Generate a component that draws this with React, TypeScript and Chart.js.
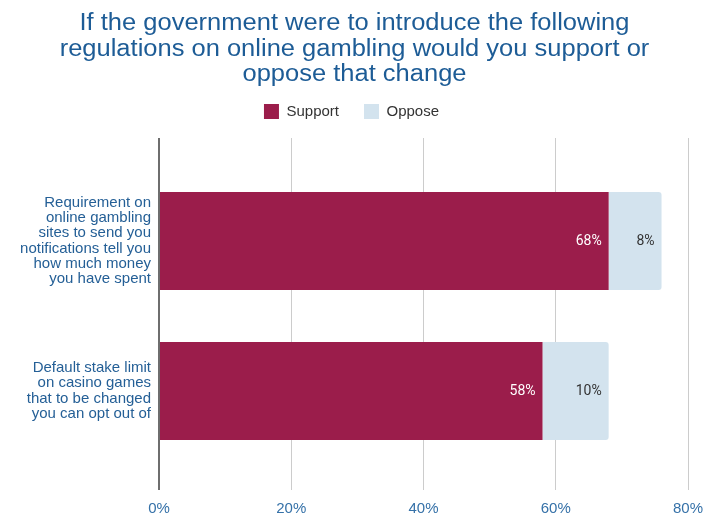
import React, { useEffect, useRef } from "react";
import { Chart, registerables } from "chart.js";

Chart.register(...registerables);

const TITLE_LINES = [
  "If the government were to introduce the following",
  "regulations on online gambling would you support or",
  "oppose that change",
];
const CATEGORIES: string[][] = [
  [
    "Requirement on",
    "online gambling",
    "sites to send you",
    "notifications tell you",
    "how much money",
    "you have spent",
  ],
  ["Default stake limit", "on casino games", "that to be changed", "you can opt out of"],
];
const SERIES_NAMES = ["Support", "Oppose"];
const SUPPORT = [68, 58];
const OPPOSE = [8, 10];
const X_MIN = 0;
const X_MAX = 80;
const X_STEP = 20;

const SUPPORT_COLOR = "#9b1d4b";
const OPPOSE_COLOR = "#d3e3ee";
const GRID_COLOR = "#cccccc";
const ZERO_COLOR = "#6e6e6e";
const TITLE_COLOR = "#1d5c96";

const gridColor = (ctx: any) => (ctx.tick && ctx.tick.value === 0 ? ZERO_COLOR : GRID_COLOR);
const gridWidth = (ctx: any) => (ctx.tick && ctx.tick.value === 0 ? 2 : 1);

// Title drawn as real canvas text, slightly widened like the reference
const titlePlugin = {
  id: "wideTitle",
  afterDraw(chart: any) {
    const ctx = chart.ctx;
    ctx.save();
    ctx.font = "normal 23.5px 'Liberation Sans', Arial, sans-serif";
    ctx.fillStyle = TITLE_COLOR;
    ctx.textAlign = "center";
    ctx.textBaseline = "alphabetic";
    const cx = 354.5;
    const sx = 1.085;
    ctx.translate(cx, 0);
    ctx.scale(sx, 1);
    TITLE_LINES.forEach((line, i) => {
      ctx.fillText(line, 0, 30 + i * 25.7);
    });
    ctx.restore();
  },
};

const valueLabels = {
  id: "valueLabels",
  afterDatasetsDraw(chart: any) {
    const ctx = chart.ctx;
    ctx.save();
    ctx.font = "normal 14px Roboto, 'Liberation Sans', sans-serif";
    ctx.textAlign = "right";
    ctx.textBaseline = "middle";
    chart.data.datasets.forEach((ds: any, di: number) => {
      const meta = chart.getDatasetMeta(di);
      meta.data.forEach((bar: any, i: number) => {
        const { x, y } = bar.getProps(["x", "y"], true);
        ctx.fillStyle = di === 0 ? "#ffffff" : "#333333";
        ctx.fillText(ds.data[i] + "%", x - 7, y);
      });
    });
    ctx.restore();
  },
};

export default function App() {
  const ref = useRef<HTMLCanvasElement | null>(null);

  useEffect(() => {
    if (!ref.current) return;
    const chart = new Chart(ref.current, {
      type: "bar",
      data: {
        labels: CATEGORIES,
        datasets: [
          {
            label: SERIES_NAMES[0],
            data: SUPPORT,
            backgroundColor: SUPPORT_COLOR,
            borderWidth: 0,
            borderRadius: 0,
            xAxisID: "x",
            yAxisID: "y",
          },
          {
            label: SERIES_NAMES[1],
            data: OPPOSE,
            backgroundColor: OPPOSE_COLOR,
            borderWidth: 0,
            borderRadius: 3,
            xAxisID: "x",
            yAxisID: "y",
          },
        ],
      },
      options: {
        indexAxis: "y",
        responsive: false,
        animation: false,
        devicePixelRatio: 1,
        barPercentage: 0.653,
        categoryPercentage: 1,
        layout: { padding: { left: 15, right: 27, top: 79, bottom: 0 } },
        plugins: {
          tooltip: { enabled: false },
          title: { display: false },
          legend: {
            display: true,
            position: "top",
            labels: {
              boxWidth: 15,
              boxHeight: 15,
              padding: 25,
              color: "#333333",
              font: { family: "'Liberation Sans', Arial, sans-serif", size: 15 },
            },
          },
        },
        scales: {
          x: {
            type: "linear",
            position: "bottom",
            stacked: true,
            min: X_MIN,
            max: X_MAX,
            afterFit: (s: any) => {
              s.height = 47;
            },
            ticks: {
              stepSize: X_STEP,
              padding: 10,
              color: "#3571a8",
              font: { family: "'Liberation Sans', Arial, sans-serif", size: 15 },
              callback: (v: any) => v + "%",
            },
            grid: {
              color: gridColor,
              lineWidth: gridWidth,
              drawTicks: true,
              tickLength: 24,
            },
            border: { display: false },
          },
          x2: {
            type: "linear",
            position: "top",
            min: X_MIN,
            max: X_MAX,
            afterFit: (s: any) => {
              s.height = 37;
            },
            ticks: { stepSize: X_STEP, display: false },
            grid: {
              color: gridColor,
              lineWidth: gridWidth,
              drawOnChartArea: false,
              drawTicks: true,
              tickLength: 28,
            },
            border: { display: false },
          },
          y: {
            type: "category",
            stacked: true,
            afterFit: (s: any) => {
              s.width = 144;
              s.paddingTop = 0;
              s.paddingBottom = 0;
            },
            grid: { display: false, drawTicks: false },
            border: { display: false },
            ticks: {
              padding: 8,
              color: "#245f96",
              font: { family: "'Liberation Sans', Arial, sans-serif", size: 15, lineHeight: 1.02 },
            },
          },
        },
      },
      plugins: [valueLabels, titlePlugin],
    } as any);
    return () => chart.destroy();
  }, []);

  return (
    <div style={{ position: "fixed", left: 0, top: 0, width: 715, height: 513, background: "#ffffff" }}>
      <canvas ref={ref} width={715} height={513} style={{ display: "block" }} />
    </div>
  );
}
